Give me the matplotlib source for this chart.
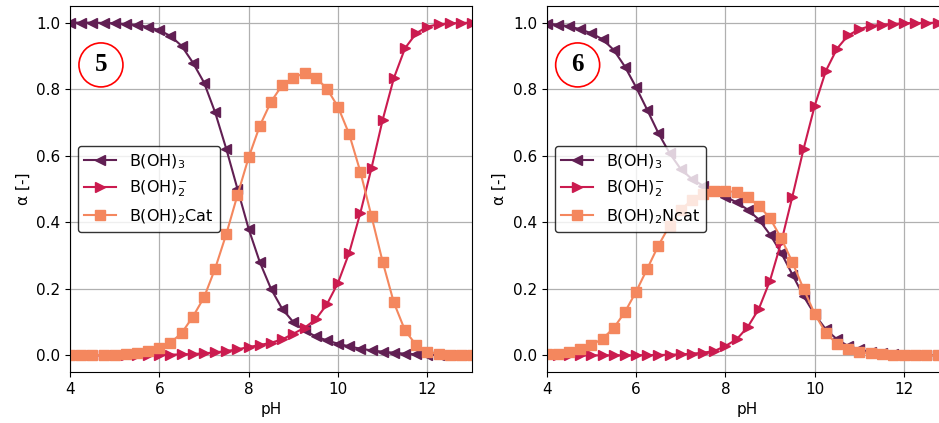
import numpy as np
import matplotlib
matplotlib.use("Agg")
import matplotlib.pyplot as plt

# pH grid (step 0.25)
ph = np.linspace(4, 13, 37)

# panel 5 : B(OH)3 / B(OH)2- / B(OH)2Cat
boh3_5 = [1.000, 1.000, 1.000, 0.999, 0.998, 0.996, 0.993, 0.987, 0.977,
          0.960, 0.930, 0.880, 0.820, 0.730, 0.620, 0.500, 0.380,
          0.280, 0.200, 0.140, 0.100, 0.075, 0.057, 0.045, 0.035,
          0.027, 0.020, 0.015, 0.011, 0.008, 0.005, 0.003, 0.002,
          0.001, 0.001, 0.000, 0.000]
boh2_5 = [0.000, 0.000, 0.000, 0.000, 0.000, 0.000, 0.000, 0.001, 0.001,
          0.002, 0.003, 0.004, 0.006, 0.009, 0.013, 0.018, 0.025,
          0.031, 0.038, 0.048, 0.065, 0.083, 0.108, 0.153, 0.218,
          0.308, 0.428, 0.563, 0.708, 0.833, 0.923, 0.968, 0.988,
          0.995, 0.998, 0.999, 1.000]
cat_5 = [0.000, 0.000, 0.001, 0.001, 0.002, 0.004, 0.007, 0.012, 0.022,
         0.038, 0.067, 0.116, 0.174, 0.261, 0.365, 0.482, 0.595,
         0.690, 0.762, 0.812, 0.835, 0.848, 0.835, 0.802, 0.747,
         0.665, 0.552, 0.418, 0.281, 0.159, 0.075, 0.031, 0.011,
         0.005, 0.002, 0.001, 0.000]

# panel 6 : B(OH)3 / B(OH)2- / B(OH)2Ncat
boh3_6 = [0.997, 0.994, 0.989, 0.980, 0.968, 0.950, 0.918, 0.868, 0.806,
          0.738, 0.668, 0.608, 0.560, 0.530, 0.510, 0.493, 0.477,
          0.460, 0.438, 0.408, 0.363, 0.308, 0.243, 0.178, 0.123,
          0.078, 0.048, 0.028, 0.018, 0.010, 0.006, 0.004, 0.002,
          0.001, 0.001, 0.000, 0.000]
boh2_6 = [0.000, 0.000, 0.000, 0.000, 0.000, 0.000, 0.000, 0.000, 0.000,
          0.001, 0.001, 0.002, 0.003, 0.005, 0.008, 0.013, 0.028,
          0.048, 0.085, 0.140, 0.225, 0.340, 0.477, 0.620, 0.750,
          0.855, 0.922, 0.962, 0.980, 0.990, 0.994, 0.996, 0.998,
          0.999, 0.999, 1.000, 1.000]
ncat_6 = [0.003, 0.005, 0.010, 0.019, 0.031, 0.050, 0.082, 0.130, 0.191,
          0.260, 0.330, 0.390, 0.437, 0.467, 0.485, 0.495, 0.495,
          0.490, 0.475, 0.450, 0.412, 0.352, 0.280, 0.200, 0.125,
          0.067, 0.035, 0.018, 0.010, 0.006, 0.004, 0.002, 0.001,
          0.001, 0.000, 0.000, 0.000]

labels_5 = [r'B(OH)$_3$', r'B(OH)$_2^{-}$', r'B(OH)$_2$Cat']
labels_6 = [r'B(OH)$_3$', r'B(OH)$_2^{-}$', r'B(OH)$_2$Ncat']
colors = ['#611f53', '#cb1b4f', '#f4875e']
markers = ['<', '>', 's']

plt.rcParams['font.size'] = 11
DPI = 100
fig = plt.figure(figsize=(939 / DPI, 423 / DPI), dpi=DPI)
ax1 = fig.add_axes([70 / 939, 51 / 423, 402 / 939, 366 / 423])
ax2 = fig.add_axes([546.7 / 939, 51 / 423, 402 / 939, 366 / 423])

panels = [(ax1, [boh3_5, boh2_5, cat_5], labels_5, '5'),
          (ax2, [boh3_6, boh2_6, ncat_6], labels_6, '6')]

for ax, series, labels, tag in panels:
    for y, lab, col, mk in zip(series, labels, colors, markers):
        ax.plot(ph, y, marker=mk, color=col, label=lab, lw=1.5, ms=7)
    ax.set_xlim(4, 13)
    ax.set_ylim(-0.05, 1.05)
    ax.set_xticks([4, 6, 8, 10, 12])
    ax.set_yticks(np.arange(0, 1.01, 0.2))
    ax.set_xlabel('pH')
    ax.set_ylabel('α [-]')
    ax.grid(True, color='#b0b0b0', lw=0.9)
    leg = ax.legend(loc='center left', framealpha=0.8, edgecolor='black',
                    prop={'size': 11.5})
    leg.get_frame().set_linewidth(1.0)
    ax.text(0.077, 0.839, tag, transform=ax.transAxes, ha='center', va='center',
            fontsize=18, fontweight='bold', family='Liberation Serif',
            bbox=dict(boxstyle='circle,pad=0.42', fc='white', ec='red', lw=1.2),
            zorder=5)

fig.savefig('out.png', dpi=DPI)
